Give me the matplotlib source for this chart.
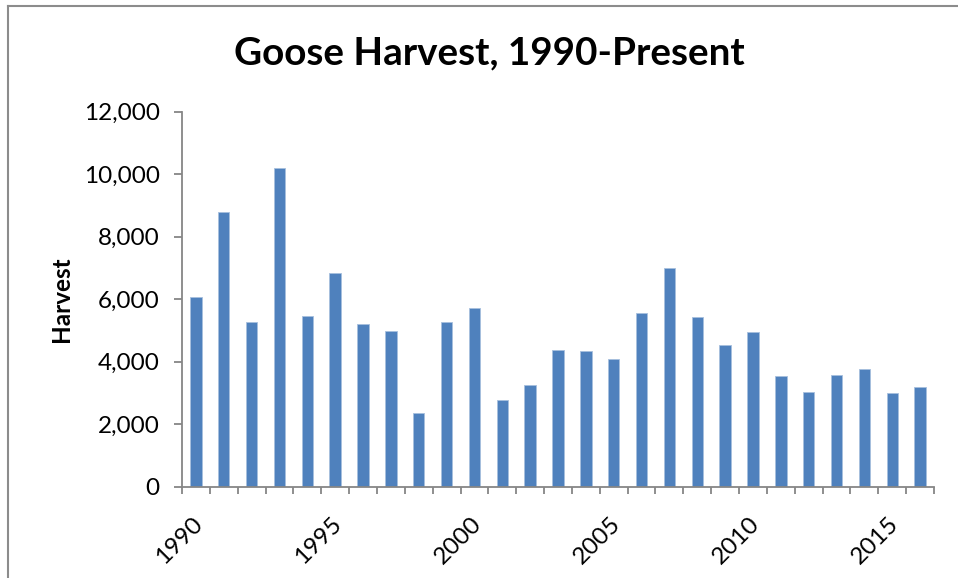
import matplotlib
matplotlib.use("Agg")
import matplotlib.pyplot as plt
import matplotlib.transforms as mtransforms
from matplotlib.lines import Line2D
from matplotlib.ticker import FuncFormatter, FixedLocator
import numpy as np

years = list(range(1990, 2017))
harvest = [6070, 8790, 5270, 10180, 5470, 6830, 5190, 4990, 2360,
           5270, 5700, 2770, 3240, 4380, 4330, 4090, 5550, 7000,
           5420, 4530, 4930, 3550, 3030, 3580, 3750, 2990, 3190]
label_years = [1990, 1995, 2000, 2005, 2010, 2015]
yticks = [0, 2000, 4000, 6000, 8000, 10000, 12000]

title = "Goose Harvest, 1990-Present"
ylabel = "Harvest"

plt.rcParams['font.family'] = ['Lato', 'DejaVu Sans']

fig = plt.figure(figsize=(9.58, 5.78), dpi=100)
ax = fig.add_axes([182/958, 1-486.5/578, (934-182)/958, (486.5-111.5)/578])

x = np.arange(len(years))
ax.bar(x, harvest, width=0.41, color='#4F81BD', edgecolor='#A7BFDE', linewidth=0.6, zorder=2)

ax.set_xlim(-0.5, len(years)-0.5)
ax.set_ylim(yticks[0], yticks[-1])
ax.set_yticks(yticks)
ax.yaxis.set_major_formatter(FuncFormatter(lambda v, p: f"{int(v):,}"))

gray = '#868686'
for s in ['top', 'right']:
    ax.spines[s].set_visible(False)
for s in ['left', 'bottom']:
    ax.spines[s].set_color(gray)
    ax.spines[s].set_linewidth(1.3)

ax.tick_params(axis='y', direction='out', length=6, width=1.3, color=gray,
               labelsize=17.5, pad=10, labelcolor='black')

# labels at category centres
lab_pos = [years.index(y) for y in label_years]
ax.set_xticks(lab_pos)
ax.set_xticklabels([str(y) for y in label_years], rotation=45, ha='right',
                   rotation_mode='anchor', fontsize=17.5)
ax.tick_params(axis='x', which='major', length=0, pad=14)
offset = mtransforms.ScaledTranslation(-4/100, -7/100, fig.dpi_scale_trans)
for lbl in ax.get_xticklabels():
    lbl.set_transform(lbl.get_transform() + offset)
# tick marks at category boundaries
ax.xaxis.set_minor_locator(FixedLocator(np.arange(-0.5, len(years), 1.0)))
ax.tick_params(axis='x', which='minor', direction='out', length=5, width=1.3, color=gray)

fig.text(489/958, 1-53/578, title, ha='center', va='center', fontsize=27.8, fontweight='bold')
fig.text(62/958, 1-299/578, ylabel, ha='center', va='center', rotation=90,
         fontsize=17.5, fontweight='bold')

# partial figure frame (top and left)
fig.add_artist(Line2D([8/958, 1], [1-6/578, 1-6/578], color='#8c8c8c', lw=1.5,
                      transform=fig.transFigure))
fig.add_artist(Line2D([8/958, 8/958], [0, 1-6/578], color='#8c8c8c', lw=1.5,
                      transform=fig.transFigure))

fig.savefig("out.png", dpi=100)
